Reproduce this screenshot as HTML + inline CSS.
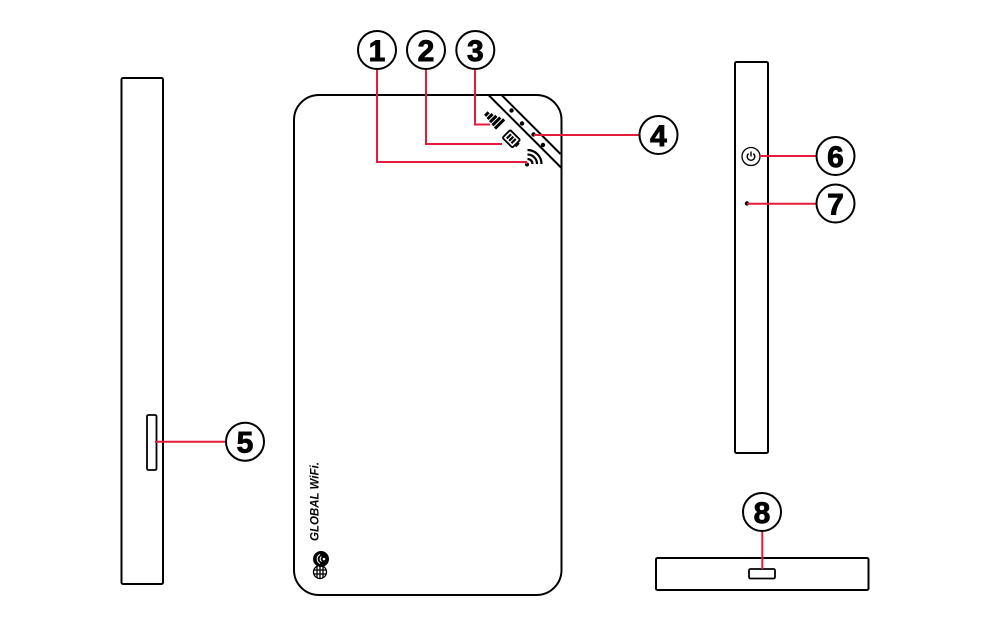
<!DOCTYPE html>
<html>
<head>
<meta charset="utf-8">
<style>
  html, body { margin:0; padding:0; background:#fff; }
  body { width:1007px; height:618px; overflow:hidden; }
  svg { display:block; }
  .num { font-family: "Liberation Sans", sans-serif; font-weight:bold; font-size:30px; fill:#000; stroke:#000; stroke-width:0.9; text-anchor:middle; }
</style>
</head>
<body>
<svg width="1007" height="618" viewBox="0 0 1007 618" xmlns="http://www.w3.org/2000/svg">
  <rect x="0" y="0" width="1007" height="618" fill="#fff"/>

  <!-- Left side view -->
  <rect x="121.5" y="78" width="41.5" height="506" rx="1.5" fill="none" stroke="#000" stroke-width="2"/>
  <rect x="147" y="415" width="9.5" height="55" rx="1.5" fill="none" stroke="#000" stroke-width="1.8"/>
  <line x1="155" y1="441.7" x2="226" y2="441.7" stroke="#e41c3c" stroke-width="2"/>

  <!-- Main body -->
  <rect x="294" y="95" width="267.5" height="500" rx="25" fill="none" stroke="#000" stroke-width="2"/>
  <!-- diagonal strip -->
  <line x1="488.5" y1="95" x2="561.5" y2="168" stroke="#000" stroke-width="2"/>
  <line x1="501.5" y1="95" x2="560.5" y2="154" stroke="#000" stroke-width="2"/>
  <!-- LEDs on strip -->
  <circle cx="511.5" cy="110.5" r="2.2" fill="#000"/>
  <circle cx="522" cy="123.5" r="2.2" fill="#000"/>
  <circle cx="533.5" cy="134.5" r="2.2" fill="#000"/>
  <circle cx="543" cy="145" r="2.2" fill="#000"/>

  <!-- signal icon (tilted bars) -->
  <g transform="translate(492.5,119) rotate(45)">
    <rect x="-9" y="-2" width="3" height="5" fill="#000"/>
    <rect x="-5" y="-3.5" width="3" height="7" fill="#000"/>
    <rect x="-1" y="-5" width="3" height="9" fill="#000"/>
    <rect x="3" y="-6.5" width="3" height="11" fill="#000"/>
    <rect x="7" y="-8" width="3" height="13" fill="#000"/>
  </g>
  <!-- battery icon -->
  <g transform="translate(512,139.5) rotate(45)">
    <rect x="-8" y="-5.5" width="14" height="11" rx="1.2" fill="none" stroke="#000" stroke-width="1.8"/>
    <rect x="6" y="-2.5" width="2.5" height="5" fill="#000"/>
    <rect x="-5.5" y="-3" width="2.2" height="6" fill="#000"/>
    <rect x="-2.2" y="-3" width="2.2" height="6" fill="#000"/>
    <rect x="1.1" y="-3" width="2.2" height="6" fill="#000"/>
  </g>
  <!-- wifi icon -->
  <g fill="none" stroke="#000" stroke-width="2.2">
    <path d="M 527.5 159 A 5 5 0 0 1 532.5 164"/>
    <path d="M 527.5 154.5 A 9.5 9.5 0 0 1 537 164"/>
    <path d="M 527.5 150 A 14 14 0 0 1 541.5 164"/>
  </g>
  <circle cx="527" cy="164.5" r="2" fill="#000"/>

  <!-- callout lines top -->
  <polyline points="377,69 377,162 526,162 526,164" fill="none" stroke="#e41c3c" stroke-width="2"/>
  <polyline points="426,69 426,144 502,144" fill="none" stroke="#e41c3c" stroke-width="2"/>
  <polyline points="475,69 475,124.5 490,124.5" fill="none" stroke="#e41c3c" stroke-width="2"/>
  <line x1="534" y1="135" x2="640" y2="135" stroke="#e41c3c" stroke-width="2"/>

  <!-- logo -->
  <text transform="translate(318.5,541) rotate(-90)" font-family="Liberation Sans, sans-serif" font-weight="bold" font-style="italic" font-size="11.5" fill="#000">GLOBAL WiFi.</text>
  <circle cx="321" cy="559" r="8" fill="#000"/>
  <g stroke="#fff" stroke-width="1" fill="none">
    <path d="M 321.5 556.5 A 3 3 0 0 0 321.5 561.5"/>
    <path d="M 320 554.5 A 5 5 0 0 0 320 563.5"/>
  </g>
  <circle cx="324" cy="559" r="1.3" fill="#fff"/>
  <g stroke="#000" stroke-width="1.3" fill="none">
    <circle cx="320" cy="572" r="6.5"/>
    <line x1="313.5" y1="570" x2="326.5" y2="570"/>
    <line x1="313.5" y1="574" x2="326.5" y2="574"/>
    <line x1="317" y1="566" x2="317" y2="578"/>
    <line x1="320" y1="565.5" x2="320" y2="578.5"/>
    <line x1="323" y1="566" x2="323" y2="578"/>
  </g>

  <!-- Right side view -->
  <rect x="735" y="62" width="33" height="391" rx="1.5" fill="none" stroke="#000" stroke-width="2"/>
  <circle cx="751" cy="156.5" r="9" fill="none" stroke="#000" stroke-width="1.3"/>
  <path d="M 748.6 153.6 A 3.8 3.8 0 1 0 753.4 153.6" fill="none" stroke="#000" stroke-width="1.4"/>
  <line x1="751" y1="151.5" x2="751" y2="156.5" stroke="#000" stroke-width="1.4"/>
  <line x1="760" y1="156" x2="817" y2="156" stroke="#e41c3c" stroke-width="2"/>
  <circle cx="747" cy="203.5" r="2.2" fill="#000"/>
  <line x1="747" y1="203.8" x2="817" y2="203.8" stroke="#e41c3c" stroke-width="2"/>

  <!-- Bottom view -->
  <rect x="656" y="558" width="212.5" height="32" rx="1.5" fill="none" stroke="#000" stroke-width="2"/>
  <rect x="749" y="569" width="26" height="9.5" rx="1.5" fill="none" stroke="#000" stroke-width="1.8"/>
  <line x1="762.3" y1="531" x2="762.3" y2="569" stroke="#e41c3c" stroke-width="2"/>

  <!-- Number circles -->
  <g fill="#fff" stroke="#000" stroke-width="2">
    <circle cx="377" cy="50" r="19"/>
    <circle cx="426" cy="50" r="19"/>
    <circle cx="475.3" cy="50" r="19"/>
    <circle cx="658.5" cy="135" r="19"/>
    <circle cx="245" cy="441.7" r="19"/>
    <circle cx="835.5" cy="156" r="19"/>
    <circle cx="835.5" cy="203.5" r="19"/>
    <circle cx="762" cy="512" r="19"/>
  </g>
  <text class="num" x="377" y="60.8">1</text>
  <text class="num" x="426" y="60.8">2</text>
  <text class="num" x="475.3" y="60.8">3</text>
  <text class="num" x="658.5" y="145.8">4</text>
  <text class="num" x="245" y="452.5">5</text>
  <text class="num" x="835.5" y="166.8">6</text>
  <text class="num" x="835.5" y="214.3">7</text>
  <text class="num" x="762" y="522.8">8</text>
</svg>
</body>
</html>
